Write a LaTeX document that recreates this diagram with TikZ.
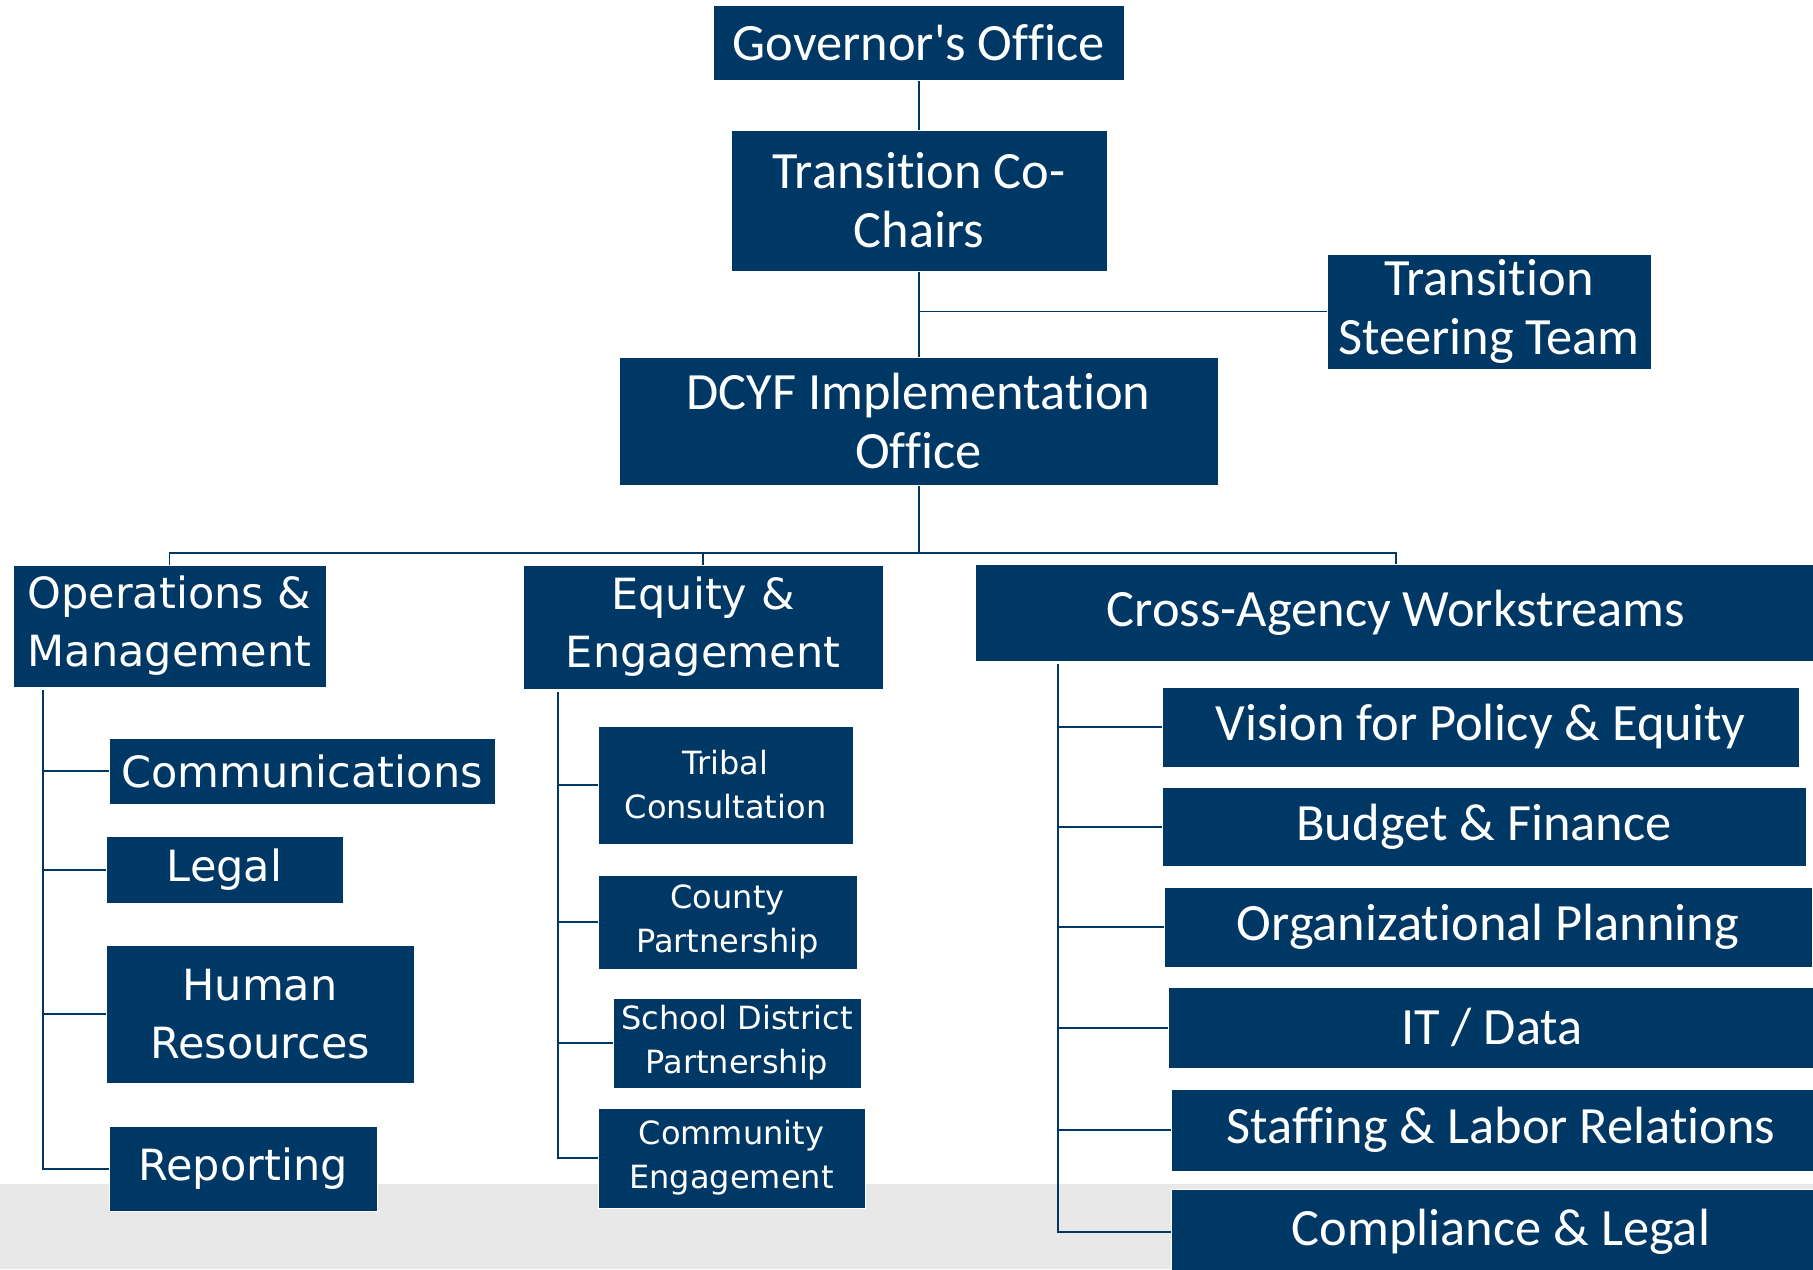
\documentclass[tikz,border=0pt]{standalone}
\usepackage{fontspec}
\setmainfont{Carlito}[Ligatures={CommonOff,TeXOff}]
\newfontfamily\verdfont{DejaVu Sans}
\usepackage {tikz}
\usetikzlibrary {positioning}
\usetikzlibrary{calc}
\definecolor{navy}{RGB}{0,56,101}
\definecolor{bandgray}{RGB}{232,232,232}
\newcommand{\calfont}{\fontsize{26.2}{29.5}\selectfont}
\newcommand{\unitfont}{\verdfont\fontsize{21.5}{29}\selectfont}
\newcommand{\subfont}{\verdfont\fontsize{16}{22}\selectfont}
\tikzset{
    orgbox/.style = {rectangle, fill=navy, draw=white, line width=0.5pt, text=white, inner sep=0pt, align=center},
    headbox/.style = {orgbox, font=\calfont},
    unitbox/.style = {orgbox, font=\unitfont},
    subbox/.style = {orgbox, font=\subfont},
    linkline/.style = {draw=navy, line width=1pt},
    thinline/.style = {draw=navy, line width=0.7pt}}
\begin{document}
\begin{tikzpicture}[x=0.5pt,y=-0.5pt]
    \useasboundingbox (0,0) rectangle (1813,1269);
    \clip (0,0) rectangle (1813,1269);
    \fill[bandgray] (0,1184) rectangle (1813,1269);
    \path (918.5,42.5) node[headbox, minimum width=205.5pt, minimum height=37.5pt] (gov) {Governor's Office}
        (919,200.5) node[headbox, minimum width=188pt, minimum height=70.5pt] (chairs) {Transition Co-\\Chairs}
        (1489,311.5) node[headbox, minimum width=162pt, minimum height=57.5pt] (steer) {Transition\\Steering Team}
        (918.5,421) node[headbox, minimum width=299.5pt, minimum height=64pt] (dcyf) {DCYF Implementation\\Office}
        (169.5,626) node[unitbox, minimum width=156.5pt, minimum height=61pt] (ops) {Operations \&\\Management}
        (703,627) node[unitbox, minimum width=180pt, minimum height=62pt] (equity) {Equity \&\\Engagement}
        (1396,612.5) node[headbox, minimum width=421pt, minimum height=48.5pt] (cross) {Cross-Agency Workstreams};
    % operations column
    \path (302,771) node[unitbox, minimum width=193pt, minimum height=33pt] (comm) {Communications}
        (224.5,869.5) node[unitbox, minimum width=118.5pt, minimum height=33.5pt] (legal) {Legal}
        (260,1014) node[unitbox, minimum width=154pt, minimum height=69pt] (hr) {Human\\Resources}
        (243,1168.5) node[unitbox, minimum width=134pt, minimum height=42.5pt] (report) {Reporting};
    % equity column
    \path (725.5,785) node[subbox, minimum width=127.5pt, minimum height=59pt] (tribal) {Tribal\\Consultation}
        (727.5,922) node[subbox, minimum width=129.5pt, minimum height=47pt] (county) {County\\Partnership}
        (737,1043) node[subbox, minimum width=124pt, minimum height=45pt] (school) {School District\\Partnership}
        (731.5,1158) node[subbox, minimum width=133.5pt, minimum height=50pt] (community) {Community\\Engagement};
    % workstreams column
    \path (1480.5,727) node[headbox, minimum width=318.5pt, minimum height=40pt] (vision) {Vision for Policy \& Equity}
        (1484,826.5) node[headbox, minimum width=322pt, minimum height=39.5pt] (budget) {Budget \& Finance}
        (1488,927) node[headbox, minimum width=324pt, minimum height=40pt] (orgplan) {Organizational Planning}
        (1492,1027.5) node[headbox, minimum width=324pt, minimum height=40.5pt] (itdata) {IT / Data}
        (1501,1130) node[headbox, minimum width=330pt, minimum height=41pt] (staff) {Staffing \& Labor Relations}
        (1501,1232) node[headbox, minimum width=330pt, minimum height=43pt] (comply) {Compliance \& Legal};
    \coordinate (bus) at (918.5,553);
    \coordinate (opsT) at (43,690);
    \coordinate (eqT) at (558,692);
    \coordinate (crossT) at (1058,664);
    \draw[linkline] (gov.south) -- (gov.south |- chairs.north)
        (chairs.south) -- (chairs.south |- dcyf.north)
        (dcyf.south) -- (bus);
    \draw[thinline] (chairs.south |- steer.west) -- (steer.west);
    \draw[thinline] (ops.north) |- (bus) -| (cross.north)
        (bus -| equity.north) -- (equity.north);
    \draw[linkline] (opsT) |- (comm.west) (opsT) |- (legal.west)
        (opsT) |- (hr.west) (opsT) |- (report.west);
    \draw[linkline] (eqT) |- (tribal.west) (eqT) |- (county.west)
        (eqT) |- (school.west) (eqT) |- (community.west);
    \draw[linkline] (crossT) |- (vision.west) (crossT) |- (budget.west)
        (crossT) |- (orgplan.west) (crossT) |- (itdata.west)
        (crossT) |- (staff.west) (crossT) |- (comply.west);
\end{tikzpicture}
\end{document}
